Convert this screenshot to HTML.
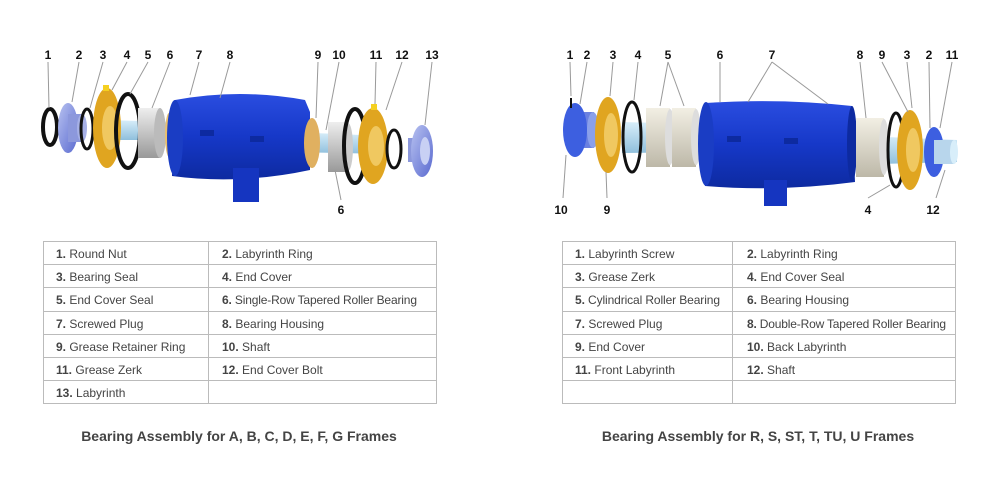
<!DOCTYPE html>
<html><head><meta charset="utf-8"><style>
html,body{margin:0;padding:0;background:#fff;width:1000px;height:480px;overflow:hidden}
svg{display:block}
.n{font:bold 12px "Liberation Sans",sans-serif;fill:#111;text-anchor:middle}
.t{font:12px "Liberation Sans",sans-serif;fill:#444}
.h{font:bold 14px "Liberation Sans",sans-serif;fill:#444;text-anchor:middle}
.l{stroke:#999;stroke-width:1;fill:none}
.g{stroke:#bbb;stroke-width:1;fill:none}
</style></head><body>
<svg width="1000" height="480" viewBox="0 0 1000 480" xmlns="http://www.w3.org/2000/svg">
<defs>
<linearGradient id="bl" x1="0" y1="0" x2="0" y2="1"><stop offset="0" stop-color="#2a4de0"/><stop offset="0.5" stop-color="#1638c8"/><stop offset="1" stop-color="#0d2aa0"/></linearGradient>
<linearGradient id="sh" x1="0" y1="0" x2="0" y2="1"><stop offset="0" stop-color="#d8eefa"/><stop offset="1" stop-color="#8fbfdc"/></linearGradient>
<linearGradient id="gr" x1="0" y1="0" x2="0" y2="1"><stop offset="0" stop-color="#eee"/><stop offset="1" stop-color="#999"/></linearGradient>
<linearGradient id="lv" x1="0" y1="0" x2="1" y2="1"><stop offset="0" stop-color="#b8c2f0"/><stop offset="1" stop-color="#5a6ad0"/></linearGradient>
<linearGradient id="cr" x1="0" y1="0" x2="0" y2="1"><stop offset="0" stop-color="#f2efe4"/><stop offset="1" stop-color="#bdb8a8"/></linearGradient>
</defs>
<!-- LEFT DIAGRAM -->
<g>
<polygon points="105,120 176,122 176,140 105,140" fill="url(#sh)"/>
<polygon points="290,132 385,136 385,154 290,152" fill="url(#sh)"/>
<ellipse cx="50" cy="127" rx="7" ry="18" fill="none" stroke="#111" stroke-width="4"/>
<ellipse cx="68" cy="128" rx="10" ry="25" fill="url(#lv)"/>
<rect x="68" y="114" width="14" height="28" fill="#8c98dc"/>
<ellipse cx="82" cy="128" rx="5" ry="14" fill="#a6b0e6"/>
<ellipse cx="87" cy="129" rx="6" ry="20" fill="none" stroke="#111" stroke-width="3"/>
<ellipse cx="107" cy="128" rx="14" ry="40" fill="#e0a520"/>
<ellipse cx="110" cy="128" rx="8" ry="22" fill="#f0c860"/>
<rect x="103" y="85" width="6" height="6" fill="#f5d020"/>
<ellipse cx="128" cy="131" rx="12" ry="37" fill="none" stroke="#111" stroke-width="4"/>
<rect x="138" y="108" width="22" height="50" fill="url(#gr)"/>
<ellipse cx="160" cy="133" rx="6" ry="25" fill="#bbb"/>
<ellipse cx="169" cy="135" rx="4" ry="22" fill="#e8c070"/>
<path d="M175,100 Q240,88 305,100 L310,112 L310,170 Q240,185 172,176 Z" fill="url(#bl)"/>
<ellipse cx="175" cy="138" rx="8" ry="38" fill="#1a3dc4"/>
<rect x="233" y="168" width="26" height="34" fill="#1535c0"/>
<rect x="200" y="130" width="14" height="6" fill="#0d2aa0"/>
<rect x="250" y="136" width="14" height="6" fill="#0d2aa0"/>
<ellipse cx="312" cy="143" rx="8" ry="25" fill="#e0b060"/>
<rect x="328" y="122" width="20" height="50" fill="url(#gr)"/>
<ellipse cx="348" cy="147" rx="5" ry="24" fill="#ccc"/>
<ellipse cx="355" cy="146" rx="11" ry="37" fill="none" stroke="#111" stroke-width="4"/>
<ellipse cx="373" cy="146" rx="15" ry="38" fill="#e0a520"/>
<ellipse cx="376" cy="146" rx="8" ry="20" fill="#f0c860"/>
<rect x="371" y="104" width="6" height="6" fill="#f5d020"/>
<ellipse cx="394" cy="149" rx="7" ry="19" fill="none" stroke="#111" stroke-width="3"/>
<rect x="408" y="138" width="12" height="24" fill="#8c98dc"/>
<ellipse cx="422" cy="151" rx="11" ry="26" fill="url(#lv)"/>
<ellipse cx="425" cy="151" rx="5" ry="14" fill="#c8d0f4"/>
<g class="l">
<line x1="48" y1="62" x2="49" y2="108"/><line x1="79" y1="62" x2="72" y2="102"/><line x1="103" y1="62" x2="90" y2="108"/>
<line x1="127" y1="62" x2="112" y2="90"/><line x1="148" y1="62" x2="130" y2="94"/><line x1="170" y1="62" x2="152" y2="108"/>
<line x1="199" y1="62" x2="190" y2="95"/><line x1="230" y1="62" x2="220" y2="98"/><line x1="318" y1="62" x2="316" y2="118"/>
<line x1="339" y1="62" x2="326" y2="130"/><line x1="376" y1="62" x2="375" y2="104"/><line x1="402" y1="62" x2="386" y2="110"/>
<line x1="432" y1="62" x2="425" y2="125"/><line x1="341" y1="200" x2="335" y2="170"/>
</g>
<text class="n" x="48" y="59">1</text><text class="n" x="79" y="59">2</text><text class="n" x="103" y="59">3</text>
<text class="n" x="127" y="59">4</text><text class="n" x="148" y="59">5</text><text class="n" x="170" y="59">6</text>
<text class="n" x="199" y="59">7</text><text class="n" x="230" y="59">8</text><text class="n" x="318" y="59">9</text>
<text class="n" x="339" y="59">10</text><text class="n" x="376" y="59">11</text><text class="n" x="402" y="59">12</text>
<text class="n" x="432" y="59">13</text><text class="n" x="341" y="214">6</text>
</g>
<!-- RIGHT DIAGRAM -->
<g>
<polygon points="622,122 704,124 704,152 622,153" fill="url(#sh)"/>
<polygon points="837,135 957,140 957,162 837,165" fill="url(#sh)"/>
<rect x="578" y="112" width="16" height="36" fill="#6a80e0"/>
<ellipse cx="575" cy="130" rx="12" ry="27" fill="#3d5fe0"/>
<ellipse cx="593" cy="130" rx="6" ry="18" fill="#8aa0ea"/>
<line x1="571" y1="98" x2="571" y2="108" stroke="#111" stroke-width="2"/>
<ellipse cx="608" cy="135" rx="13" ry="38" fill="#e0a520"/>
<ellipse cx="611" cy="135" rx="7" ry="22" fill="#f0c860"/>
<ellipse cx="632" cy="137" rx="9" ry="35" fill="none" stroke="#111" stroke-width="3"/>
<rect x="646" y="108" width="24" height="59" fill="url(#cr)"/>
<ellipse cx="670" cy="137" rx="5" ry="28" fill="#ddd"/>
<rect x="672" y="108" width="24" height="59" fill="url(#cr)"/>
<ellipse cx="696" cy="137" rx="5" ry="28" fill="#ddd"/>
<path d="M705,103 Q780,98 852,106 L855,182 Q780,192 705,186 Z" fill="url(#bl)"/>
<ellipse cx="706" cy="144" rx="8" ry="42" fill="#1a3dc4"/>
<ellipse cx="852" cy="144" rx="5" ry="38" fill="#0d2aa0"/>
<rect x="764" y="180" width="23" height="26" fill="#1535c0"/>
<rect x="727" y="136" width="14" height="6" fill="#0d2aa0"/>
<rect x="784" y="138" width="14" height="6" fill="#0d2aa0"/>
<rect x="856" y="118" width="28" height="59" fill="url(#cr)"/>
<ellipse cx="884" cy="147" rx="5" ry="28" fill="#ddd"/>
<ellipse cx="896" cy="150" rx="8" ry="37" fill="none" stroke="#111" stroke-width="3"/>
<ellipse cx="910" cy="150" rx="13" ry="40" fill="#e0a520"/>
<ellipse cx="913" cy="150" rx="7" ry="22" fill="#f0c860"/>
<ellipse cx="934" cy="152" rx="10" ry="25" fill="#3d5fe0"/>
<rect x="934" y="140" width="20" height="24" fill="#b8d6ec"/>
<ellipse cx="954" cy="152" rx="4" ry="12" fill="#d8eefa"/>
<g class="l">
<line x1="570" y1="62" x2="571" y2="96"/><line x1="587" y1="62" x2="580" y2="104"/><line x1="613" y1="62" x2="610" y2="96"/>
<line x1="638" y1="62" x2="634" y2="100"/><line x1="668" y1="62" x2="660" y2="106"/><line x1="668" y1="62" x2="684" y2="106"/>
<line x1="720" y1="62" x2="720" y2="102"/><line x1="772" y1="62" x2="748" y2="102"/><line x1="772" y1="62" x2="828" y2="104"/>
<line x1="860" y1="62" x2="866" y2="118"/><line x1="882" y1="62" x2="908" y2="112"/><line x1="907" y1="62" x2="912" y2="108"/>
<line x1="929" y1="62" x2="930" y2="128"/><line x1="952" y1="62" x2="940" y2="128"/>
<line x1="563" y1="198" x2="566" y2="155"/><line x1="607" y1="198" x2="606" y2="172"/><line x1="868" y1="198" x2="890" y2="185"/>
<line x1="936" y1="198" x2="945" y2="170"/>
</g>
<text class="n" x="570" y="59">1</text><text class="n" x="587" y="59">2</text><text class="n" x="613" y="59">3</text>
<text class="n" x="638" y="59">4</text><text class="n" x="668" y="59">5</text><text class="n" x="720" y="59">6</text>
<text class="n" x="772" y="59">7</text><text class="n" x="860" y="59">8</text><text class="n" x="882" y="59">9</text>
<text class="n" x="907" y="59">3</text><text class="n" x="929" y="59">2</text><text class="n" x="952" y="59">11</text>
<text class="n" x="561" y="214">10</text><text class="n" x="607" y="214">9</text><text class="n" x="868" y="214">4</text><text class="n" x="933" y="214">12</text>
</g>
<!-- LEFT TABLE -->
<g class="g">
<rect x="43.5" y="241.5" width="393" height="162"/>
<line x1="208.5" y1="241" x2="208.5" y2="404"/>
<line x1="43" y1="264.5" x2="436" y2="264.5"/><line x1="43" y1="287.5" x2="436" y2="287.5"/>
<line x1="43" y1="311.5" x2="436" y2="311.5"/><line x1="43" y1="334.5" x2="436" y2="334.5"/>
<line x1="43" y1="357.5" x2="436" y2="357.5"/><line x1="43" y1="380.5" x2="436" y2="380.5"/>
</g>
<g class="t">
<text x="56" y="258"><tspan font-weight="bold">1.</tspan> Round Nut</text>
<text x="222" y="258"><tspan font-weight="bold">2.</tspan> Labyrinth Ring</text>
<text x="56" y="281"><tspan font-weight="bold">3.</tspan> Bearing Seal</text>
<text x="222" y="281"><tspan font-weight="bold">4.</tspan> End Cover</text>
<text x="56" y="304"><tspan font-weight="bold">5.</tspan> End Cover Seal</text>
<text x="222" y="304" textLength="195"><tspan font-weight="bold">6.</tspan> Single-Row Tapered Roller Bearing</text>
<text x="56" y="328"><tspan font-weight="bold">7.</tspan> Screwed Plug</text>
<text x="222" y="328"><tspan font-weight="bold">8.</tspan> Bearing Housing</text>
<text x="56" y="351"><tspan font-weight="bold">9.</tspan> Grease Retainer Ring</text>
<text x="222" y="351"><tspan font-weight="bold">10.</tspan> Shaft</text>
<text x="56" y="374"><tspan font-weight="bold">11.</tspan> Grease Zerk</text>
<text x="222" y="374"><tspan font-weight="bold">12.</tspan> End Cover Bolt</text>
<text x="56" y="397"><tspan font-weight="bold">13.</tspan> Labyrinth</text>
</g>
<text class="h" x="239" y="441">Bearing Assembly for A, B, C, D, E, F, G Frames</text>
<!-- RIGHT TABLE -->
<g class="g">
<rect x="562.5" y="241.5" width="393" height="162"/>
<line x1="732.5" y1="241" x2="732.5" y2="404"/>
<line x1="562" y1="264.5" x2="955" y2="264.5"/><line x1="562" y1="287.5" x2="955" y2="287.5"/>
<line x1="562" y1="311.5" x2="955" y2="311.5"/><line x1="562" y1="334.5" x2="955" y2="334.5"/>
<line x1="562" y1="357.5" x2="955" y2="357.5"/><line x1="562" y1="380.5" x2="955" y2="380.5"/>
</g>
<g class="t">
<text x="575" y="258"><tspan font-weight="bold">1.</tspan> Labyrinth Screw</text>
<text x="747" y="258"><tspan font-weight="bold">2.</tspan> Labyrinth Ring</text>
<text x="575" y="281"><tspan font-weight="bold">3.</tspan> Grease Zerk</text>
<text x="747" y="281"><tspan font-weight="bold">4.</tspan> End Cover Seal</text>
<text x="575" y="304" textLength="145"><tspan font-weight="bold">5.</tspan> Cylindrical Roller Bearing</text>
<text x="747" y="304"><tspan font-weight="bold">6.</tspan> Bearing Housing</text>
<text x="575" y="328"><tspan font-weight="bold">7.</tspan> Screwed Plug</text>
<text x="747" y="328" textLength="199"><tspan font-weight="bold">8.</tspan> Double-Row Tapered Roller Bearing</text>
<text x="575" y="351"><tspan font-weight="bold">9.</tspan> End Cover</text>
<text x="747" y="351"><tspan font-weight="bold">10.</tspan> Back Labyrinth</text>
<text x="575" y="374"><tspan font-weight="bold">11.</tspan> Front Labyrinth</text>
<text x="747" y="374"><tspan font-weight="bold">12.</tspan> Shaft</text>
</g>
<text class="h" x="758" y="441">Bearing Assembly for R, S, ST, T, TU, U Frames</text>
</svg>
</body></html>
